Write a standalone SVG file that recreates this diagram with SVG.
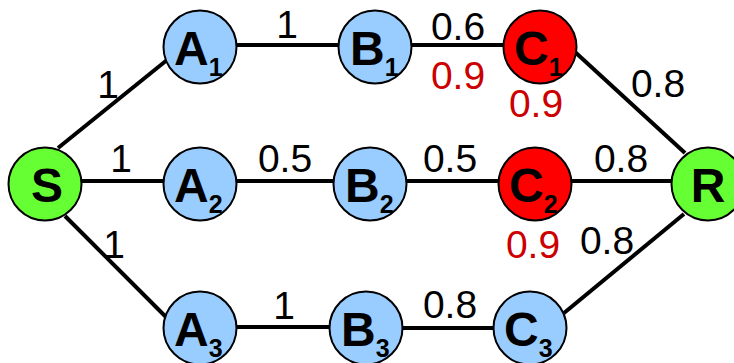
<svg xmlns="http://www.w3.org/2000/svg" width="734" height="363" viewBox="0 0 734 363">
<style>
.e{stroke:#000;stroke-width:4;fill:none}
.n circle{stroke:#000;stroke-width:2}
.blue{fill:#99ccff}.green{fill:#66ff33}.red{fill:#ff0000}
.nl{font-family:"Liberation Sans",Arial,sans-serif;font-weight:bold;font-size:48px;fill:#000}
.sub{font-size:25px}
.w{font-family:"Liberation Sans",Arial,sans-serif;font-size:39px;fill:#000;text-anchor:middle}
.wr{fill:#cc0000}
</style>
<rect width="734" height="363" fill="#fff"/>
<g id="connectors">
<line class="e" x1="58" y1="148" x2="167" y2="60"/>
<line class="e" x1="82" y1="181" x2="164" y2="181"/>
<line class="e" x1="65" y1="216" x2="167" y2="318"/>
<line class="e" x1="236" y1="45" x2="339" y2="45"/>
<line class="e" x1="411" y1="45" x2="504" y2="45"/>
<line class="e" x1="575" y1="52" x2="685" y2="153"/>
<line class="e" x1="236" y1="181" x2="334" y2="181"/>
<line class="e" x1="406" y1="181" x2="499" y2="181"/>
<line class="e" x1="571" y1="181" x2="672" y2="181"/>
<line class="e" x1="236" y1="327" x2="330" y2="327"/>
<line class="e" x1="402" y1="328" x2="494" y2="328"/>
<line class="e" x1="564" y1="313" x2="684" y2="214"/>
</g>
<g id="labels">
<text class="w" x="108" y="98">1</text>
<text class="w" x="121" y="172">1</text>
<text class="w" x="114" y="258">1</text>
<text class="w" x="287" y="38">1</text>
<text class="w" x="458" y="40">0.6</text>
<text class="w wr" x="458" y="89">0.9</text>
<text class="w wr" x="536" y="117">0.9</text>
<text class="w" x="658" y="97">0.8</text>
<text class="w" x="285" y="172">0.5</text>
<text class="w" x="450" y="172">0.5</text>
<text class="w" x="621" y="172">0.8</text>
<text class="w wr" x="533" y="258">0.9</text>
<text class="w" x="607" y="254">0.8</text>
<text class="w" x="284" y="319">1</text>
<text class="w" x="450" y="318">0.8</text>
</g>
<g id="S" class="n"><circle class="green" cx="45" cy="184" r="36.5"/><text class="nl" x="47" y="202" text-anchor="middle">S</text></g>
<g id="R" class="n"><circle class="green" cx="708" cy="184" r="36.5"/><text class="nl" x="708" y="202" text-anchor="middle">R</text></g>
<g id="A1" class="n"><circle class="blue" cx="200" cy="47" r="36.5"/><text class="nl" x="174" y="65">A<tspan class="sub" dy="11">1</tspan></text></g>
<g id="B1" class="n"><circle class="blue" cx="375" cy="47" r="36.5"/><text class="nl" x="350" y="65">B<tspan class="sub" dy="11">1</tspan></text></g>
<g id="C1" class="n"><circle class="red" cx="540" cy="47" r="36.5"/><text class="nl" x="514" y="65">C<tspan class="sub" dy="11">1</tspan></text></g>
<g id="A2" class="n"><circle class="blue" cx="200" cy="184" r="36.5"/><text class="nl" x="174" y="202">A<tspan class="sub" dy="11">2</tspan></text></g>
<g id="B2" class="n"><circle class="blue" cx="370" cy="184" r="36.5"/><text class="nl" x="345" y="202">B<tspan class="sub" dy="11">2</tspan></text></g>
<g id="C2" class="n"><circle class="red" cx="535" cy="184" r="36.5"/><text class="nl" x="509" y="202">C<tspan class="sub" dy="11">2</tspan></text></g>
<g id="A3" class="n"><circle class="blue" cx="200" cy="328" r="36.5"/><text class="nl" x="174" y="346">A<tspan class="sub" dy="11">3</tspan></text></g>
<g id="B3" class="n"><circle class="blue" cx="366" cy="328" r="36.5"/><text class="nl" x="341" y="346">B<tspan class="sub" dy="11">3</tspan></text></g>
<g id="C3" class="n"><circle class="blue" cx="530" cy="328" r="36.5"/><text class="nl" x="504" y="346">C<tspan class="sub" dy="11">3</tspan></text></g>
</svg>
